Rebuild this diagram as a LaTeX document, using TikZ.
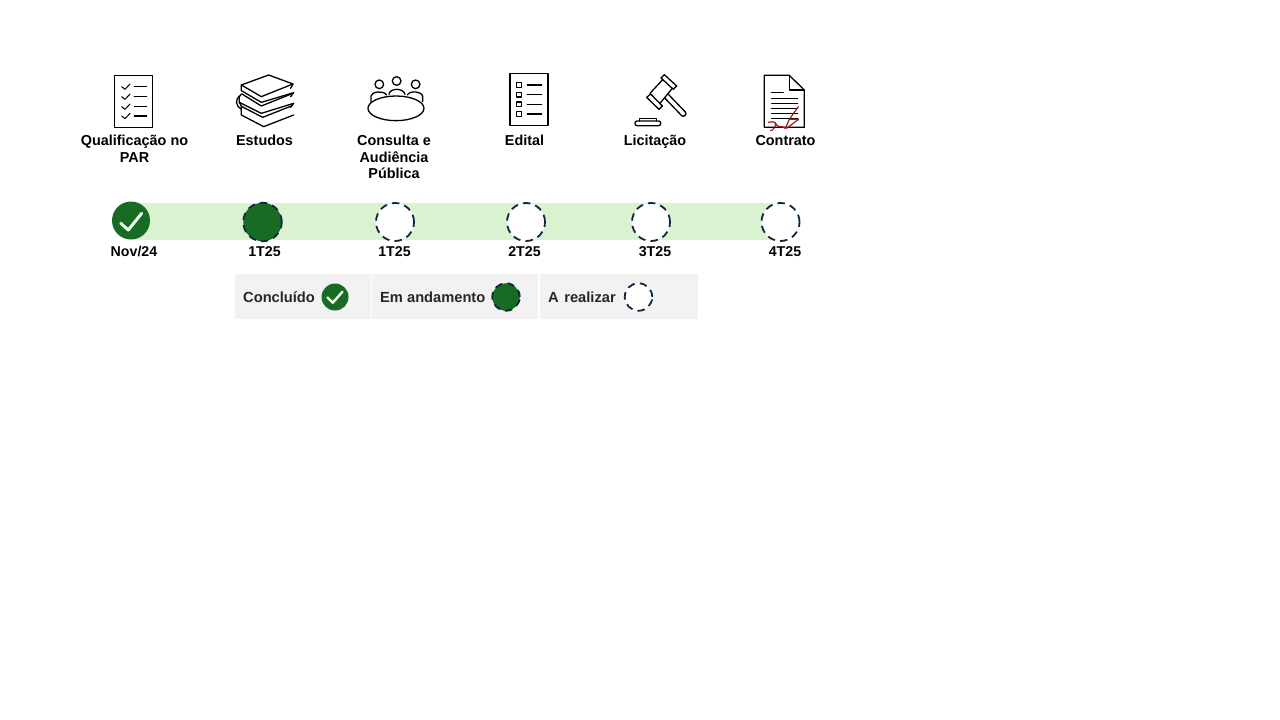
\documentclass[tikz,border=0pt]{standalone}
\usepackage{fontspec}
\setmainfont{Liberation Sans}
\definecolor{barg}{HTML}{D9F2D0}
\definecolor{dkg}{HTML}{196B24}
\definecolor{navy}{HTML}{0E2841}
\definecolor{legbg}{HTML}{F2F2F2}
\definecolor{legtx}{HTML}{262626}
\definecolor{sigred}{HTML}{9B1C1C}
\tikzset{
  x=1pt,y=-1pt,
  lbl/.style={font=\fontsize{14.4}{16.5}\selectfont\bfseries,align=center,inner sep=0pt,anchor=north,text=black},
  dateL/.style={font=\fontsize{14.2}{16.5}\selectfont\bfseries,inner sep=0pt,anchor=center,text=black},
  legT/.style={font=\fontsize{14.67}{16.5}\selectfont\bfseries,inner sep=0pt,anchor=west,text=legtx},
  legbox/.style={fill=legbg,draw=none,inner sep=0pt,anchor=north west},
  donec/.style={circle,fill=dkg,draw=none,inner sep=0pt},
  progc/.style={circle,fill=dkg,draw=navy,line width=1.8pt,dash pattern=on 7.5pt off 5.2pt,inner sep=0pt},
  todoc/.style={circle,fill=white,draw=navy,line width=1.8pt,dash pattern=on 7.5pt off 5.2pt,inner sep=0pt},
  icon/.style={line width=1.3pt,draw=black,line join=round,line cap=round},
  checkm/.style={draw=white!92!green,line cap=round,line join=round},
  zoomA/.style={shift={(70,60)},x=0.3333pt,y=-0.3333pt},
  zoomB/.style={shift={(450,60)},x=0.3333pt,y=-0.3333pt},
  zoomC/.style={shift={(232,70)},x=0.3333pt,y=-0.3333pt},
  zoomD/.style={shift={(630,70)},x=0.3333pt,y=-0.3333pt}
}
\begin{document}
\begin{tikzpicture}
\useasboundingbox (0,0) rectangle (1280,720);
\fill[white] (0,0) rectangle (1280,720);
% bar
\node[fill=barg,inner sep=0pt,minimum width=640pt,minimum height=37.3pt,anchor=north west] (bar) at (135,202.7) {};
% timeline circles
\node[donec,minimum size=38pt] (c1) at (131,220.5) {};
\draw[checkm,line width=3pt] (120.7,223.3) -- (128.3,230) -- (141.7,213.3);
\node[progc,minimum size=38.5pt] (c2) at (262.5,222) {};
\node[todoc,minimum size=38pt] (c3) at (395,222) {};
\node[todoc,minimum size=38pt] (c4) at (526,222) {};
\node[todoc,minimum size=38pt] (c5) at (651,222) {};
\node[todoc,minimum size=38pt] (c6) at (780.5,222) {};
% dates
\node[dateL] (d1) at (134,251.3) {Nov/24};
\node[dateL] (d2) at (264.5,251.3) {1T25};
\node[dateL] (d3) at (394.5,251.3) {1T25};
\node[dateL] (d4) at (524.5,251.3) {2T25};
\node[dateL] (d5) at (655,251.3) {3T25};
\node[dateL] (d6) at (785,251.3) {4T25};
% labels
\node[lbl] (t1) at (134.5,135) {Qualificação no\\PAR};
\node[lbl] (t2) at (264.5,135) {Estudos};
\node[lbl] (t3) at (394,135) {Consulta e\\Audiência\\Pública};
\node[lbl] (t4) at (524.5,135) {Edital};
\node[lbl] (t5) at (655,135) {Licitação};
\node[lbl] (t6) at (785.5,135) {Contrato};
% legend
\node[legbox,minimum width=135.5pt,minimum height=45pt] (l1) at (235,274) {};
\node[legbox,minimum width=166pt,minimum height=45pt] (l2) at (372,274) {};
\node[legbox,minimum width=158pt,minimum height=45pt] (l3) at (540,274) {};
\node[legT] (lt1) at (243,297) {Concluído};
\node[legT] (lt2) at (380,297) {Em andamento};
\node[legT] (lt3) at (548,297) {A\hspace{1.5pt} realizar};
\node[donec,minimum size=27pt] (lc1) at (335,297) {};
\draw[checkm,line width=2.4pt] (327.5,297.5) -- (332.8,302.7) -- (342.5,291.7);
\node[progc,minimum size=27.5pt] (lc2) at (506,297) {};
\node[todoc,minimum size=27.5pt,fill=white] (lc3) at (638.5,297) {};
% icon: checklist
\begin{scope}[zoomA]
\draw[icon] (133,47) rectangle (248,203);
\foreach \y in {80,110,140,168}{
  \draw[icon,line width=1pt] (155,\y) -- (165,\y+8) -- (180,\y-8);
  \draw[icon] (193,\y) -- (230,\y);
}
% icon: table
\draw[icon] (978,145) ellipse [x radius=84,y radius=37];
\draw[icon] (928,73) circle (13);
\draw[icon] (980,63) circle (13);
\draw[icon] (1037,73) circle (13);
\draw[icon] (903,125) -- (903,108) .. controls (905,95) and (940,90) .. (950,105);
\draw[icon] (957,103) .. controls (960,83) and (1000,83) .. (1005,103);
\draw[icon] (1012,105) .. controls (1020,90) and (1055,95) .. (1058,108) -- (1058,125);
\end{scope}
% icon: books
\begin{scope}[zoomC]
\draw[icon] (28,45) -- (110,15) -- (183,42) -- (88,80) -- cycle;
\draw[icon] (28,45) -- (28,62) -- (88,97) -- (185,68);
\draw[icon] (183,42) -- (176,55);
\draw[icon] (28,72) -- (22,80) -- (22,97) -- (88,130) -- (185,100);
\draw[icon] (30,72) -- (88,108) -- (178,72);
\draw[icon] (185,68) -- (176,80);
\draw[icon] (22,97) -- (28,108) -- (28,135) -- (95,170) -- (185,135);
\draw[icon] (30,110) -- (92,142) -- (178,108);
\draw[icon] (185,100) -- (176,112);
\draw[icon] (22,78) .. controls (10,88) and (10,108) .. (28,118);
\end{scope}
% icon: gavel
\begin{scope}[zoomD]
\draw[icon] (103,14) -- (140,48) -- (130,58) -- (93,24) -- cycle;
\draw[icon] (62,72) -- (97,108) -- (87,118) -- (50,82) -- cycle;
\draw[icon] (98,29) -- (60,70);
\draw[icon] (127,55) -- (90,100);
\draw[icon] (105,85) -- (155,137) .. controls (162,143) and (172,132) .. (166,126) -- (116,74);
\draw[icon] (28,153) -- (28,145) -- (80,145) -- (80,153);
\draw[icon,rounded corners=2pt] (15,153) rectangle (92,167);
\end{scope}
\begin{scope}[zoomB]
% icon: edital
\draw[icon] (180,41) rectangle (294,196);
\foreach \y in {75,104,133,162}{
  \draw[icon] (200,\y-7) rectangle (215,\y+7);
  \draw[icon] (232,\y) -- (275,\y);
}
% icon: contract
\draw[icon] (943,46) -- (1018,46) -- (1063,90) -- (1063,202) -- (943,202) -- cycle;
\draw[icon] (1018,46) -- (1018,90) -- (1063,90);
\draw[icon] (965,98) -- (1000,98);
\foreach \y in {115,130,145,160,175}{\draw[icon] (965,\y) -- (1043,\y);}
\draw[draw=sigred,line width=1.2pt,line join=round,line cap=round]
  (955,187) .. controls (970,183) and (985,186) .. (975,200) .. controls (970,210) and (962,214) .. (962,212)
  (975,192) .. controls (985,192) and (985,205) .. (992,200) .. controls (998,195) and (998,205) .. (1005,205)
  .. controls (1012,198) and (1012,190) .. (1018,178) -- (1046,178) -- (1010,205) (1045,140) -- (1018,178);
\end{scope}
\end{tikzpicture}
\end{document}
